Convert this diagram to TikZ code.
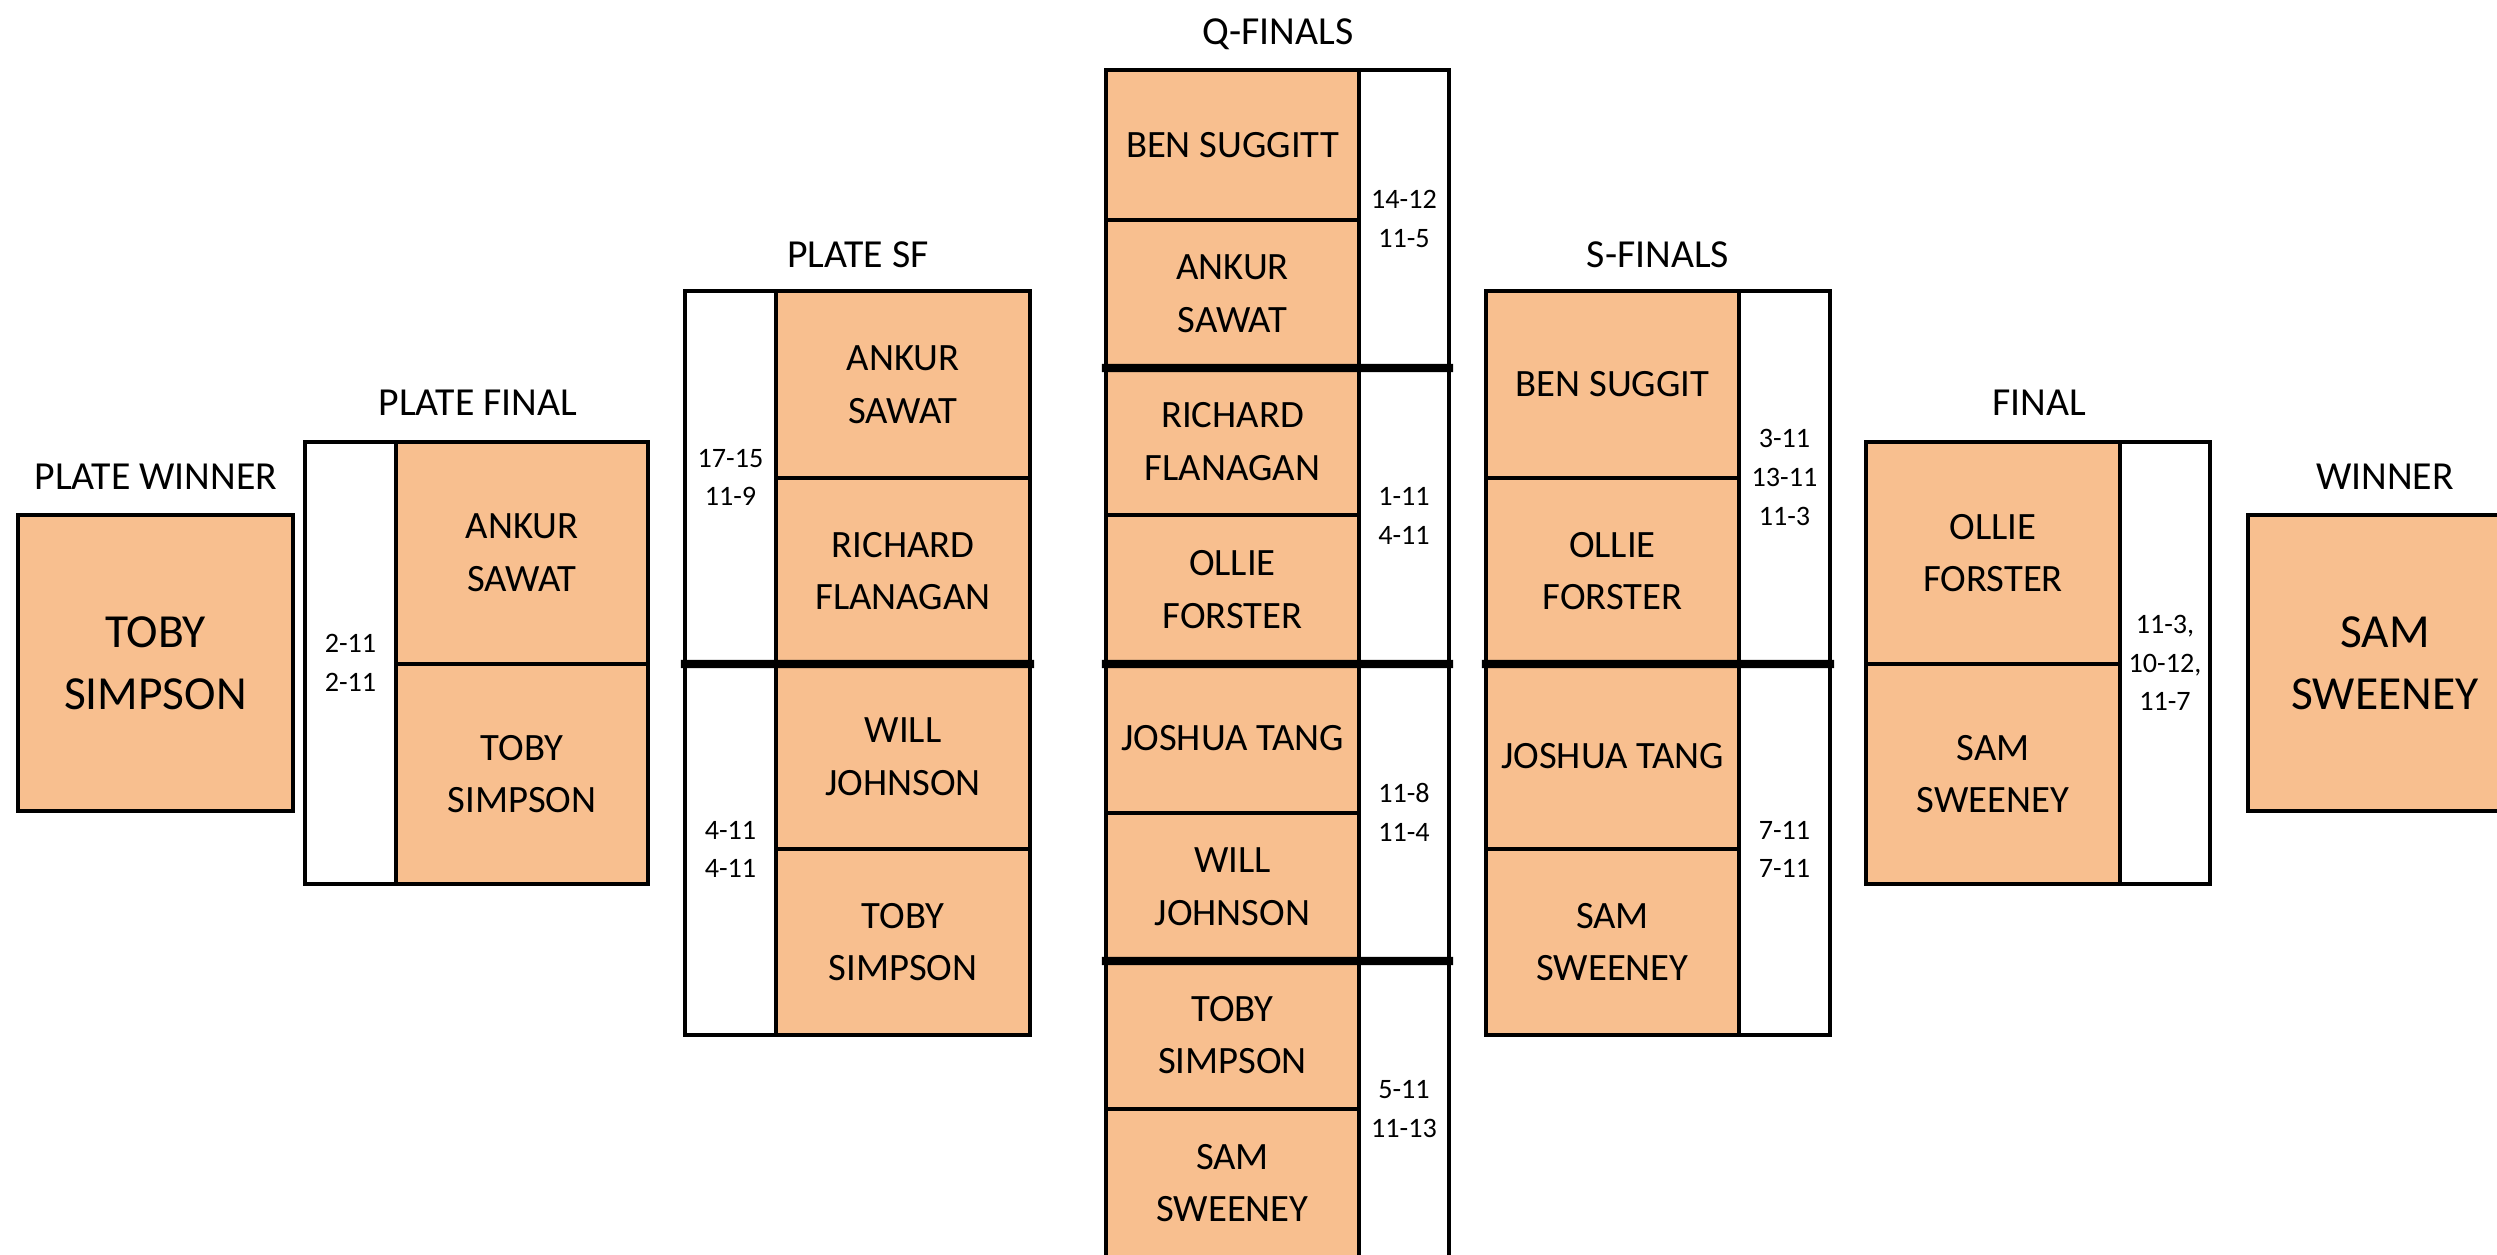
\documentclass[tikz,border=0pt]{standalone}
\usepackage{fontspec}
\setmainfont{Carlito}
\definecolor{peach}{HTML}{F8BF8F}
\newcommand\namefont{\fontsize{11}{15}\selectfont}
\newcommand\winfont{\fontsize{13.5}{17.6}\selectfont}
\newcommand\scorefont{\fontsize{8}{11}\selectfont}
\newcommand\headfont{\fontsize{11.3}{13}\selectfont}
\newcommand\cell[8]{%
  \pgfmathsetmacro\cw{(#4-#2)*0.01}%
  \pgfmathsetmacro\ch{(#5-#3)*0.01}%
  \node[cellbox, fill=#6, font=#7, minimum width=\cw cm, minimum height=\ch cm] (#1) at ({(#2+#4)/2},{(#3+#5)/2}) {#8};}
\tikzset{
  cellbox/.style={draw=black, line width=1.1pt, rectangle, inner sep=0pt, outer sep=0pt, align=center, text=black},
  sepline/.style={draw=black, line width=2.4pt, line cap=rect},
  heading/.style={anchor=base, inner sep=0pt, font=\headfont, text=black}
}
\begin{document}
\begin{tikzpicture}[x=0.01cm, y=-0.01cm]
\useasboundingbox[fill=white] (0,0) rectangle (2497,1254);
% headings
\node[heading] (hpw) at (156,489) {PLATE WINNER};
\node[heading] (hpf) at (478,415) {PLATE FINAL};
\node[heading] (hps) at (858,267) {PLATE SF};
\node[heading] (hq) at (1278,44) {Q-FINALS};
\node[heading] (hs) at (1658,267) {S-FINALS};
\node[heading] (hf) at (2039,415) {FINAL};
\node[heading] (hw) at (2385,489) {WINNER};
% plate winner
\cell{pw}{18}{515}{293}{811}{peach}{\winfont}{TOBY\\SIMPSON}
% plate final
\cell{pfs}{305}{442}{396}{884}{white}{\scorefont}{2-11\\2-11}
\cell{pf1}{396}{442}{648}{664}{peach}{\namefont}{ANKUR\\SAWAT}
\cell{pf2}{396}{664}{648}{884}{peach}{\namefont}{TOBY\\SIMPSON}
% plate SF
\cell{ps1s}{685}{291}{776}{664}{white}{\scorefont}{17-15\\11-9}
\cell{ps2s}{685}{664}{776}{1035}{white}{\scorefont}{4-11\\4-11}
\cell{ps1}{776}{291}{1030}{478}{peach}{\namefont}{ANKUR\\SAWAT}
\cell{ps2}{776}{478}{1030}{664}{peach}{\namefont}{RICHARD\\FLANAGAN}
\cell{ps3}{776}{664}{1030}{849}{peach}{\namefont}{WILL\\JOHNSON}
\cell{ps4}{776}{849}{1030}{1035}{peach}{\namefont}{TOBY\\SIMPSON}
% quarter finals
\cell{q1}{1106}{70}{1359}{220}{peach}{\namefont}{BEN SUGGITT}
\cell{q2}{1106}{220}{1359}{368}{peach}{\namefont}{ANKUR\\SAWAT}
\cell{q3}{1106}{368}{1359}{515}{peach}{\namefont}{RICHARD\\FLANAGAN}
\cell{q4}{1106}{515}{1359}{664}{peach}{\namefont}{OLLIE\\FORSTER}
\cell{q5}{1106}{664}{1359}{813}{peach}{\namefont}{JOSHUA TANG}
\cell{q6}{1106}{813}{1359}{961}{peach}{\namefont}{WILL\\JOHNSON}
\cell{q7}{1106}{961}{1359}{1109}{peach}{\namefont}{TOBY\\SIMPSON}
\cell{q8}{1106}{1109}{1359}{1257}{peach}{\namefont}{SAM\\SWEENEY}
\cell{qs1}{1359}{70}{1449}{368}{white}{\scorefont}{14-12\\11-5}
\cell{qs2}{1359}{368}{1449}{664}{white}{\scorefont}{1-11\\4-11}
\cell{qs3}{1359}{664}{1449}{961}{white}{\scorefont}{11-8\\11-4}
\cell{qs4}{1359}{961}{1449}{1257}{white}{\scorefont}{5-11\\11-13}
% semi finals
\cell{s1}{1486}{291}{1739}{478}{peach}{\namefont}{BEN SUGGIT}
\cell{s2}{1486}{478}{1739}{664}{peach}{\namefont}{OLLIE\\FORSTER}
\cell{s3}{1486}{664}{1739}{849}{peach}{\namefont}{JOSHUA TANG}
\cell{s4}{1486}{849}{1739}{1035}{peach}{\namefont}{SAM\\SWEENEY}
\cell{ss1}{1739}{291}{1830}{664}{white}{\scorefont}{3-11\\13-11\\11-3}
\cell{ss2}{1739}{664}{1830}{1035}{white}{\scorefont}{7-11\\7-11}
% final
\cell{f1}{1866}{442}{2120}{664}{peach}{\namefont}{OLLIE\\FORSTER}
\cell{f2}{1866}{664}{2120}{884}{peach}{\namefont}{SAM\\SWEENEY}
\cell{fs}{2120}{442}{2210}{884}{white}{\scorefont}{11-3,\\10-12,\\11-7}
% winner
\cell{w}{2248}{515}{2522}{811}{peach}{\winfont}{SAM\\SWEENEY}
% thick separators
\draw[sepline] (q2.south west) -- (qs1.south east);
\draw[sepline] (q4.south west) -- (qs2.south east);
\draw[sepline] (q6.south west) -- (qs3.south east);
\draw[sepline] (ps2s.north west) -- (ps2.south east);
\draw[sepline] (s3.north west) -- (ss2.north east);
\end{tikzpicture}
\end{document}
